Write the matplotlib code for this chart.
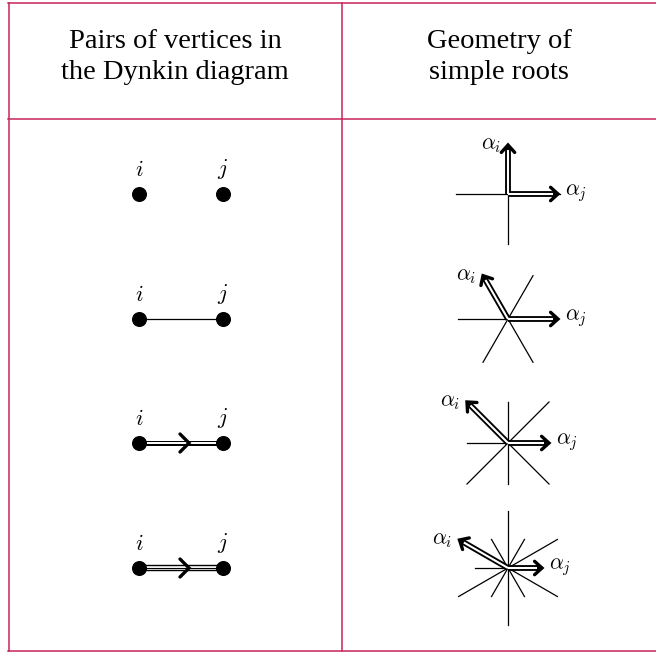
import numpy as np
import matplotlib.pyplot as plt

plt.rcParams['mathtext.fontset'] = 'cm'

# table content
header_left = "Pairs of vertices in\nthe Dynkin diagram"
header_right = "Geometry of\nsimple roots"

# Dynkin diagram: number of bond lines between i and j (0 = not joined)
bond_count = [0, 1, 2, 3]

# simple roots: angle of alpha_i (alpha_j lies along 0 deg), lengths in px
root_i_angle = [90, 120, 135, 150]
root_i_len = [49, 50, 58, 56]
root_j_len = [50, 50, 41, 34]

# reflection lines through the origin: angles and half lengths
mirror_angles = [[0, 90], [0, 60, 120], [0, 45, 90, 135], [0, 30, 60, 90, 120, 150]]
mirror_len = [[52, 50], [50, 50, 50], [41, 58, 41, 58], [33, 57, 33, 57, 33, 57]]

W, H = 656, 653
border = '#c8245c'
row_y = [194, 319, 443, 568]
x_i, x_j = 139, 223
x0 = 508


def chevron(ax, tip, ang, size, lw):
    # open arrow head with apex at tip
    a = np.deg2rad(ang)
    xs, ys = [], []
    for s in (1, -1):
        b = a + np.pi + s * np.deg2rad(42)
        xs.append(tip[0] + size * np.cos(b))
        ys.append(tip[1] - size * np.sin(b))
    ax.plot([xs[0], tip[0], xs[1]], [ys[0], tip[1], ys[1]],
            color='black', lw=lw, solid_capstyle='round',
            solid_joinstyle='miter', zorder=5)


def double_arrow(ax, org, ang, length):
    a = np.deg2rad(ang)
    d = np.array([np.cos(a), -np.sin(a)])
    tip = org + d * length
    p1 = org + d * (length - 2)
    p2 = org + d * (length - 5)
    ax.plot([org[0], p1[0]], [org[1], p1[1]], color='black', lw=4.2,
            solid_capstyle='butt', zorder=3)
    ax.plot([org[0], p2[0]], [org[1], p2[1]], color='white', lw=1.5,
            solid_capstyle='butt', zorder=4)
    chevron(ax, tip, ang, 10, 2.4)
    return tip


fig = plt.figure(figsize=(W / 100, H / 100), dpi=100)
ax = fig.add_axes([0, 0, 1, 1])
ax.set_xlim(0, W)
ax.set_ylim(H, 0)
ax.axis('off')

# table frame
ax.plot([8, W], [3, 3], color=border, lw=1.1)
ax.plot([8, W], [118.5, 118.5], color=border, lw=1.1)
ax.plot([8, W], [651, 651], color=border, lw=1.1)
ax.plot([8.5, 8.5], [3, 651], color=border, lw=1.1)
ax.plot([342, 342], [3, 651], color=border, lw=1.1)

hfont = dict(family='Liberation Serif', fontsize=20.5, ha='center',
             va='center', linespacing=1.35)
ax.text(175, 57, header_left, **hfont)
ax.text(499, 57, header_right, **hfont)

for r, y in enumerate(row_y):
    # Dynkin pair
    n = bond_count[r]
    if n == 1:
        ax.plot([x_i, x_j], [y, y], color='black', lw=0.9, zorder=2)
    elif n == 2:
        ax.plot([x_i, x_j], [y, y], color='black', lw=3.6, zorder=2)
        ax.plot([x_i, x_j], [y, y], color='white', lw=1.4, zorder=2)
    elif n == 3:
        ax.plot([x_i, x_j], [y, y], color='black', lw=4.6, zorder=2)
        ax.plot([x_i, x_j], [y, y], color='white', lw=2.6, zorder=2)
        ax.plot([x_i, x_j], [y, y], color='black', lw=0.8, zorder=2)
    if n >= 2:
        cx = 189
        ax.plot([cx - 9, cx, cx - 9], [y - 9, y, y + 9], color='black',
                lw=2.4, solid_capstyle='round', solid_joinstyle='miter', zorder=3)
    ax.plot([x_i, x_j], [y, y], 'o', color='black', ms=9.8, zorder=4)
    ax.text(x_i, y - 24, r'$i$', fontsize=16, ha='center', va='center')
    ax.text(x_j, y - 25, r'$j$', fontsize=16, ha='center', va='center')

    # root geometry
    org = np.array([x0, y], dtype=float)
    for ang, ln in zip(mirror_angles[r], mirror_len[r]):
        a = np.deg2rad(ang)
        dx, dy = ln * np.cos(a), -ln * np.sin(a)
        ax.plot([x0 - dx, x0 + dx], [y - dy, y + dy], color='black', lw=0.9, zorder=2)
    tj = double_arrow(ax, org, 0, root_j_len[r])
    ti = double_arrow(ax, org, root_i_angle[r], root_i_len[r])
    ax.text(tj[0] + 7, tj[1] - 1, r'$\alpha_j$', fontsize=15.5, ha='left', va='center')
    ax.text(ti[0] - 7, ti[1], r'$\alpha_i$', fontsize=15.5, ha='right', va='center')

fig.savefig('out.png', dpi=100)
